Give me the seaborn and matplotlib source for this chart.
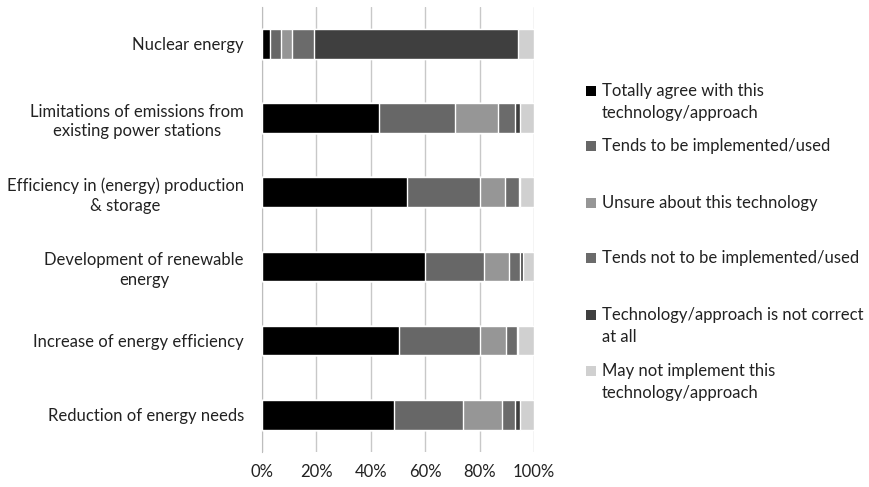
import pandas as pd
import matplotlib.pyplot as plt
import seaborn as sns
from matplotlib.patches import Rectangle
from matplotlib.ticker import PercentFormatter

# Categories (top to bottom) and response shares in percent
categories = [
    'Nuclear energy',
    'Limitations of emissions from\nexisting power stations',
    'Efficiency in (energy) production\n& storage',
    'Development of renewable\nenergy',
    'Increase of energy efficiency',
    'Reduction of energy needs',
]
responses = [
    'Totally agree with this\ntechnology/approach',
    'Tends to be implemented/used',
    'Unsure about this technology',
    'Tends not to be implemented/used',
    'Technology/approach is not correct\nat all',
    'May not implement this\ntechnology/approach',
]
totally_agree = [3.0, 43.0, 53.2, 60.0, 50.4, 48.6]
tends_to = [4.0, 28.0, 26.8, 21.7, 29.6, 25.2]
unsure = [4.0, 15.7, 9.4, 8.9, 9.7, 14.2]
tends_not = [8.0, 6.2, 4.9, 4.1, 4.0, 5.1]
not_correct = [75.0, 1.8, 0.4, 1.1, 0.5, 1.6]
may_not = [6.0, 5.3, 5.3, 4.2, 5.8, 5.3]
colors = ['#000000', '#676767', '#969696', '#6b6b6b', '#3f3f3f', '#d0d0d0']

# Build a table and cumulative sums for stacking
df = pd.DataFrame({
    'category': categories,
    responses[0]: totally_agree,
    responses[1]: tends_to,
    responses[2]: unsure,
    responses[3]: tends_not,
    responses[4]: not_correct,
    responses[5]: may_not,
})
cum = df[responses].cumsum(axis=1)
cum['category'] = df['category']

sns.set_style('white')
plt.rcParams['font.family'] = ['Lato', 'DejaVu Sans']

W, H = 870, 487
fig = plt.figure(figsize=(W / 100, H / 100), dpi=100)
ax = fig.add_axes([0.301, 0.072, 0.313, 0.914])

# Draw largest cumulative first, smaller ones on top
for resp, col in reversed(list(zip(responses, colors))):
    sns.barplot(data=cum, x=resp, y='category', orient='h', color=col,
                width=0.4, saturation=1, ax=ax, zorder=3)

ax.set_xlim(0, 100)
ax.set_xticks([0, 20, 40, 60, 80, 100])
ax.xaxis.set_major_formatter(PercentFormatter(decimals=0))
ax.set_xlabel('')
ax.set_ylabel('')
ax.grid(axis='x', color='#c8c8c8', linewidth=1)
ax.set_axisbelow(True)
for side in ['top', 'right', 'bottom']:
    ax.spines[side].set_visible(False)
ax.spines['left'].set_color('#bdbdbd')
ax.tick_params(axis='both', length=0, labelsize=12, colors='#222222')
ax.tick_params(axis='y', pad=13)
ax.tick_params(axis='x', pad=9)
for lbl in ax.get_yticklabels():
    lbl.set_multialignment('center')
    lbl.set_linespacing(1.3)

# Legend: square marker aligned with the first line of each entry
legend_rows = [91, 146, 203, 258, 315, 371]  # first-line centers, px from top
for label, col, row in zip(responses, colors, legend_rows):
    fig.add_artist(Rectangle((586 / W, 1 - (row + 5) / H), 10 / W, 10 / H,
                             transform=fig.transFigure, facecolor=col,
                             edgecolor='none'))
    fig.text(602 / W, 1 - (row - 8) / H, label, fontsize=12, color='#222222',
             va='top', ha='left', linespacing=1.45)

fig.savefig('out.png', dpi=100)
